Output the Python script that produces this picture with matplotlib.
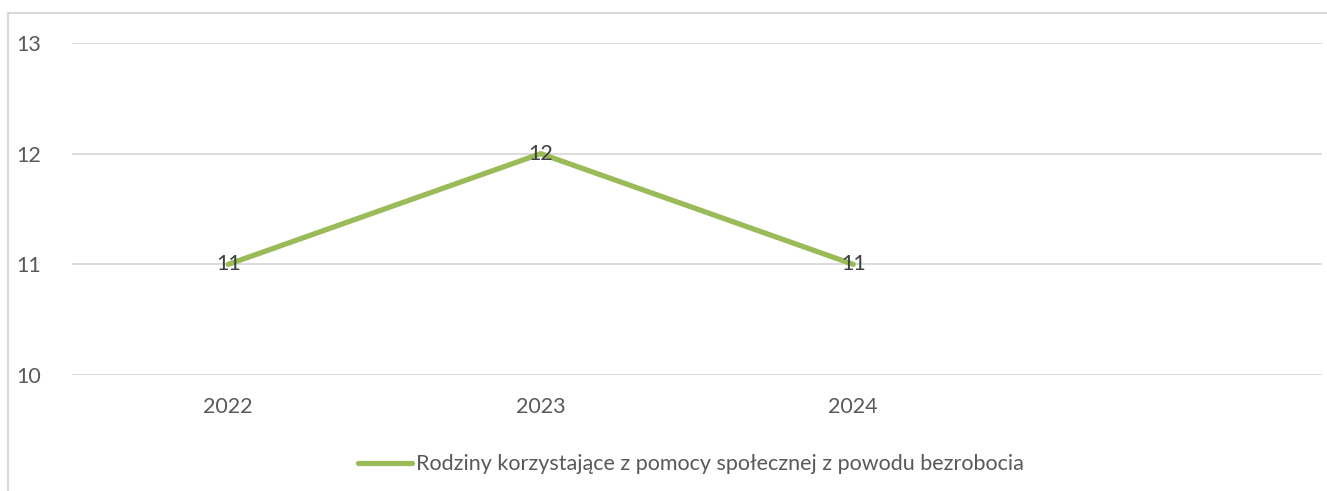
import matplotlib
matplotlib.use('Agg')
import matplotlib.pyplot as plt
from matplotlib.patches import Rectangle

years = ['2022', '2023', '2024', '']
values = [11, 12, 11]
series_name = 'Rodziny korzystające z pomocy społecznej z powodu bezrobocia'

plt.rcParams['font.family'] = ['Lato', 'DejaVu Sans']
text_col = '#595959'
grid_col = '#d9d9d9'
line_col = '#9bbb59'
fs = 15.5

fig = plt.figure(figsize=(13.27, 4.91), dpi=100)
fig.patches.append(Rectangle((8/1327, -0.1), 1.2, (491-13)/491 + 0.1, transform=fig.transFigure,
                             fill=False, edgecolor=grid_col, linewidth=1.5))
ax = fig.add_axes([72/1327, (491-375)/491, (1322-72)/1327, (375-43)/491])

x = list(range(len(values)))
ax.plot(x, values, color=line_col, linewidth=3.8, solid_capstyle='round', label=series_name, zorder=3)
for xi, v in zip(x, values):
    ax.text(xi, v, str(v), ha='center', va='center', fontsize=fs, color='#404040', zorder=4)

ax.set_xlim(-0.5, len(years) - 0.5)
ax.set_ylim(10, 13)
ax.set_yticks([10, 11, 12, 13])
ax.set_xticks(range(len(years)))
ax.set_xticklabels(years)
ax.tick_params(axis='both', length=0, labelsize=fs, labelcolor=text_col)
ax.tick_params(axis='y', pad=22)
ax.tick_params(axis='x', pad=16)
ax.grid(axis='y', color=grid_col, linewidth=1.3)
for s in ax.spines.values():
    s.set_visible(False)

ax.legend(loc='upper center', bbox_to_anchor=(0.495, -0.18), frameon=False, fontsize=fs,
          labelcolor=text_col, handlelength=2.5, handletextpad=0.2)

fig.savefig('out.png', dpi=100)
